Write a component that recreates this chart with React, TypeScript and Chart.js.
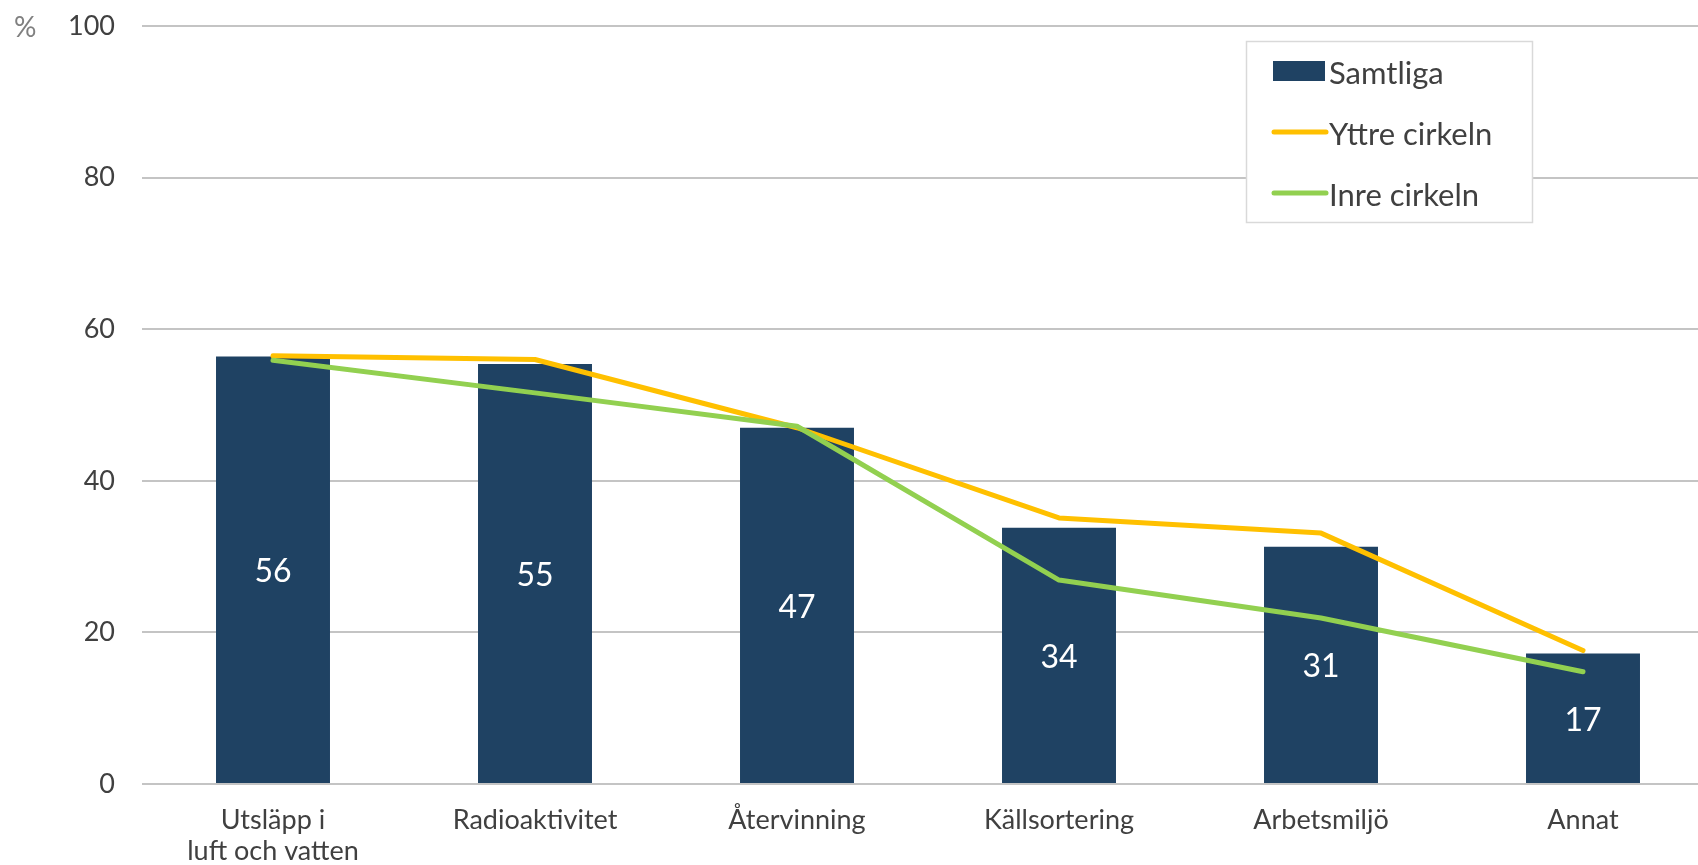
import React, { useEffect, useRef } from "react";
import { Chart, registerables } from "chart.js";

Chart.register(...registerables);

const categories: (string | string[])[] = [
  ["Utsläpp i", "luft och vatten"],
  "Radioaktivitet",
  "Återvinning",
  "Källsortering",
  "Arbetsmiljö",
  "Annat",
];
const samtliga = [56.4, 55.4, 47.0, 33.8, 31.3, 17.2];
const yttre = [56.5, 56.0, 47.0, 35.1, 33.1, 17.6];
const inre = [55.9, 51.6, 47.2, 26.9, 21.9, 14.8];
const seriesNames = ["Samtliga", "Yttre cirkeln", "Inre cirkeln"];
const yMin = 0;
const yMax = 100;
const yStep = 20;
const unitLabel = "%";

const BAR = "#1F4263";
const ORANGE = "#FFC000";
const GREEN = "#92D050";
const TEXT = "#404040";
const GRID = "#C4C4C4";
const FONT = "Lato, 'Open Sans', sans-serif";

const extrasPlugin = {
  id: "extras",
  afterDatasetsDraw(chart: any) {
    const ctx = chart.ctx;
    const meta = chart.getDatasetMeta(0);
    ctx.save();
    ctx.fillStyle = "#FFFFFF";
    ctx.font = `32px ${FONT}`;
    ctx.textAlign = "center";
    ctx.textBaseline = "middle";
    meta.data.forEach((bar: any, i: number) => {
      const v = chart.data.datasets[0].data[i] as number;
      ctx.fillText(v.toFixed(0), bar.x, (bar.y + bar.base) / 2 + 2);
    });
    ctx.restore();
  },
  afterDraw(chart: any) {
    const ctx = chart.ctx;
    ctx.save();
    ctx.fillStyle = "#808080";
    ctx.font = `28px ${FONT}`;
    ctx.textAlign = "left";
    ctx.textBaseline = "middle";
    ctx.fillText(unitLabel, 14, 28);

    const bx = 1246.5, by = 41.5, bw = 286, bh = 181;
    ctx.fillStyle = "#FFFFFF";
    ctx.fillRect(bx, by, bw, bh);
    ctx.strokeStyle = "#D9D9D9";
    ctx.lineWidth = 1.5;
    ctx.strokeRect(bx, by, bw, bh);

    const rows = [71, 132, 193];
    const ds = chart.data.datasets;
    ds.forEach((d: any, i: number) => {
      const y = rows[i];
      if (d.type === "bar") {
        ctx.fillStyle = d.backgroundColor;
        ctx.fillRect(1273, y - 10, 52, 20);
      } else {
        ctx.strokeStyle = d.borderColor;
        ctx.lineWidth = 5;
        ctx.lineCap = "round";
        ctx.beginPath();
        ctx.moveTo(1274, y);
        ctx.lineTo(1326, y);
        ctx.stroke();
      }
      ctx.fillStyle = TEXT;
      ctx.font = `31px ${FONT}`;
      ctx.textAlign = "left";
      ctx.textBaseline = "middle";
      ctx.fillText(d.label, 1329, y + 3);
    });
    ctx.restore();
  },
};

export default function App() {
  const ref = useRef<HTMLCanvasElement>(null);
  useEffect(() => {
    if (!ref.current) return;
    const chart = new Chart(ref.current, {
      type: "bar",
      data: {
        labels: categories as any,
        datasets: [
          {
            type: "bar",
            label: seriesNames[0],
            data: samtliga,
            backgroundColor: BAR,
            categoryPercentage: 0.435,
            barPercentage: 1,
            order: 3,
          } as any,
          {
            type: "line",
            label: seriesNames[1],
            data: yttre,
            borderColor: ORANGE,
            backgroundColor: ORANGE,
            borderWidth: 5,
            pointRadius: 0,
            borderCapStyle: "round",
            borderJoinStyle: "round",
            tension: 0,
            order: 2,
          },
          {
            type: "line",
            label: seriesNames[2],
            data: inre,
            borderColor: GREEN,
            backgroundColor: GREEN,
            borderWidth: 5,
            pointRadius: 0,
            borderCapStyle: "round",
            borderJoinStyle: "round",
            tension: 0,
            order: 1,
          },
        ],
      },
      options: {
        responsive: false,
        animation: false,
        layout: { padding: { top: 26, right: 16, left: 0, bottom: 0 } },
        plugins: {
          legend: { display: false },
          tooltip: { enabled: false },
        },
        scales: {
          x: {
            offset: true,
            grid: { display: false, drawTicks: false },
            border: { display: false },
            ticks: {
              color: TEXT,
              font: { family: FONT, size: 27, lineHeight: 1.15 },
              padding: 21,
              maxRotation: 0,
              autoSkip: false,
            },
            afterFit(scale: any) {
              scale.height = 81;
            },
          },
          y: {
            min: yMin,
            max: yMax,
            ticks: {
              stepSize: yStep,
              color: TEXT,
              font: { family: FONT, size: 27 },
              padding: 0,
            },
            grid: {
              color: GRID,
              lineWidth: 2,
              drawTicks: true,
              tickLength: 27,
              tickColor: "rgba(0,0,0,0)",
            },
            border: { display: false },
            afterFit(scale: any) {
              scale.width = 142;
            },
          },
        },
      },
      plugins: [extrasPlugin],
    });
    return () => chart.destroy();
  }, []);
  return (
    <div style={{ position: "fixed", left: 0, top: 0, width: 1730, height: 865, background: "#fff" }}>
      <canvas ref={ref} width={1730} height={865} style={{ display: "block" }} />
    </div>
  );
}
